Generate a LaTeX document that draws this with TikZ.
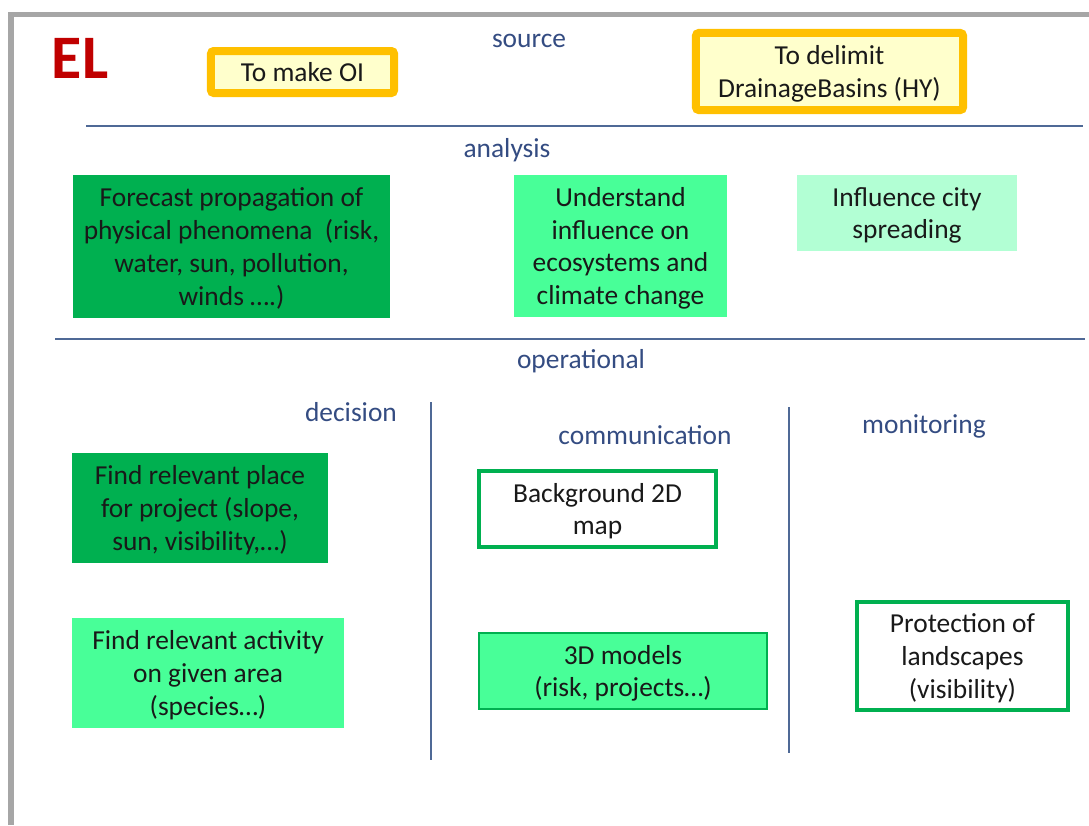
\documentclass[tikz,border=0pt]{standalone}
\usepackage{fontspec}
\setmainfont{Carlito}
\definecolor{dkgreen}{RGB}{0,176,80}
\definecolor{mdgreen}{RGB}{72,255,152}
\definecolor{ltgreen}{RGB}{178,255,212}
\definecolor{gold}{RGB}{255,192,0}
\definecolor{paleyellow}{RGB}{255,255,204}
\definecolor{elred}{RGB}{192,0,0}
\definecolor{labelblue}{RGB}{52,76,130}
\definecolor{rulecol}{RGB}{79,105,150}

\begin{document}
\begin{tikzpicture}[x=0.025cm, y=-0.025cm,
    txt/.style={font=\fontsize{19.5}{23.3}\selectfont, align=center, inner sep=0pt},
    block/.style={txt, text=black!90, text depth=-2pt},
    srcbox/.style={block, fill=paleyellow, draw=gold, line width=0.2cm, rounded corners=2pt},
    outbox/.style={block, fill=white, draw=dkgreen, line width=0.1cm},
    level/.style={txt, text=labelblue},
    sep/.style={draw=rulecol, line width=1.2pt},]
    \useasboundingbox (0,0) rectangle (1089,825);
    \fill[white] (0,0) rectangle (1089,825);
    % frame shadow
    \fill[black!35] (8,12) rectangle (1089,17);
    \fill[black!35] (8,12) rectangle (14,825);

    \node[font=\fontsize{44}{50}\selectfont\bfseries, text=elred] (el) at (80,58) {EL};

    \node[level] (source) at (529,41) {source};
    \node[srcbox, minimum width=4.575cm, minimum height=1.05cm] (oi) at (302.5,72) {To make OI};
    \node[srcbox, minimum width=6.675cm, minimum height=1.925cm] (basins) at (829.5,71.5) {To delimit\\DrainageBasins (HY)};
    \draw[sep] (86,126) -- (1083,126);

    \node[level] (analysis) at (507,150) {analysis};
    \node[block, fill=dkgreen, minimum width=7.925cm, minimum height=3.575cm] (forecast) at (231.5,246.5)
        {Forecast propagation of\\physical phenomena~ (risk,\\water, sun, pollution,\\winds ….)};
    \node[block, fill=mdgreen, minimum width=5.325cm, minimum height=3.55cm] (ecosys) at (620.5,246)
        {Understand\\influence on\\ecosystems and\\climate change};
    \node[block, fill=ltgreen, minimum width=5.5cm, minimum height=1.9cm] (city) at (907,213)
        {Influence city\\spreading};
    \draw[sep] (55,339) -- (1085,339);

    \node[level] (operational) at (581,361) {operational};
    \node[level] (decision) at (351,412) {decision};
    \node[level] (communication) at (645,435) {communication};
    \node[level] (monitoring) at (924,426) {monitoring};
    \draw[sep] (431,402) -- (431,760);
    \draw[sep] (789,407) -- (789,753);

    \node[block, fill=dkgreen, minimum width=6.4cm, minimum height=2.75cm] (place) at (200,508)
        {Find relevant place\\for project (slope,\\sun, visibility,…)};
    \node[block, fill=mdgreen, minimum width=6.8cm, minimum height=2.75cm] (activity) at (208,673)
        {Find relevant activity\\on given area\\(species…)};
    \node[outbox, minimum width=5.925cm, minimum height=1.9cm] (map2d) at (597.5,509)
        {Background 2D\\map};
    \node[block, fill=mdgreen, draw=dkgreen, line width=1.5pt, minimum width=7.2cm, minimum height=1.9cm] (models3d) at (623,671)
        {3D models\\(risk, projects…)};
    \node[outbox, minimum width=5.275cm, minimum height=2.7cm] (protect) at (962.5,656)
        {Protection of\\landscapes\\(visibility)};
\end{tikzpicture}
\end{document}
